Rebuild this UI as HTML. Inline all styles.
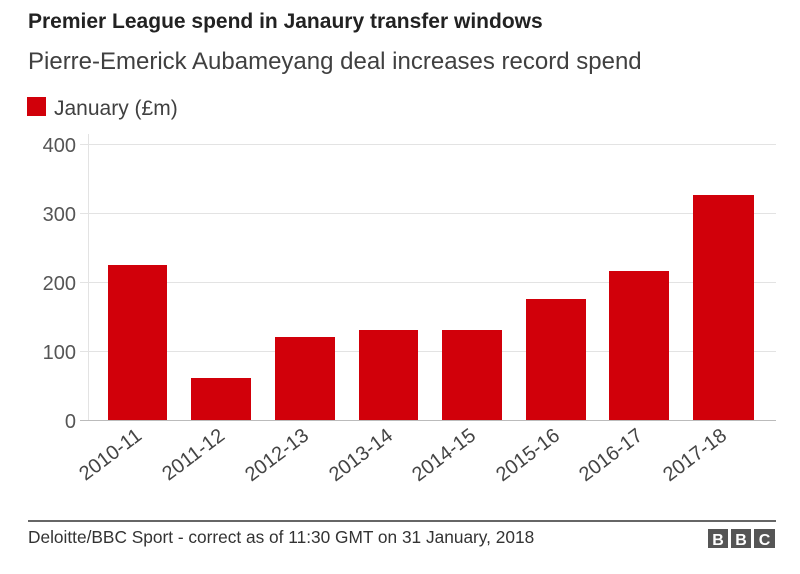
<!DOCTYPE html>
<html><head><style>
body{margin:0;background:#fff;width:800px;height:569px;overflow:hidden;font-family:"Liberation Sans",Arial,sans-serif}
</style></head><body>
<svg width="800" height="569" xmlns="http://www.w3.org/2000/svg" font-family="Liberation Sans, Arial, sans-serif">
<text x="28" y="28" font-size="21" font-weight="bold" fill="#222">Premier League spend in Janaury transfer windows</text>
<text x="28" y="69" font-size="24" fill="#404040">Pierre-Emerick Aubameyang deal increases record spend</text>
<rect x="27" y="97" width="19" height="19" fill="#d1000a"/>
<text x="54" y="115" font-size="21" fill="#404040">January (£m)</text>
<g stroke="#e3e3e3" stroke-width="1">
<line x1="80" y1="144.5" x2="776" y2="144.5"/>
<line x1="80" y1="213.5" x2="776" y2="213.5"/>
<line x1="80" y1="282.5" x2="776" y2="282.5"/>
<line x1="80" y1="351.5" x2="776" y2="351.5"/>
<line x1="88.5" y1="134" x2="88.5" y2="420"/>
</g>
<line x1="80" y1="420.5" x2="776" y2="420.5" stroke="#bbb"/>
<g font-size="20" fill="#555" text-anchor="end">
<text x="76" y="152">400</text><text x="76" y="221">300</text><text x="76" y="290">200</text><text x="76" y="359">100</text><text x="76" y="428">0</text>
</g>
<g fill="#d1000a">
<rect x="108" y="265" width="59" height="155"/>
<rect x="191" y="378" width="60" height="42"/>
<rect x="275" y="337" width="60" height="83"/>
<rect x="359" y="330" width="59" height="90"/>
<rect x="442" y="330" width="60" height="90"/>
<rect x="526" y="299" width="60" height="121"/>
<rect x="609" y="271" width="60" height="149"/>
<rect x="693" y="195" width="61" height="225"/>
</g>
<g font-size="20" fill="#444" text-anchor="end">
<text transform="translate(143,438) rotate(-37)">2010-11</text>
<text transform="translate(226,438) rotate(-37)">2011-12</text>
<text transform="translate(310,438) rotate(-37)">2012-13</text>
<text transform="translate(394,438) rotate(-37)">2013-14</text>
<text transform="translate(477,438) rotate(-37)">2014-15</text>
<text transform="translate(561,438) rotate(-37)">2015-16</text>
<text transform="translate(644,438) rotate(-37)">2016-17</text>
<text transform="translate(728,438) rotate(-37)">2017-18</text>
</g>
<line x1="28" y1="521" x2="776" y2="521" stroke="#333" stroke-width="1.5"/>
<text x="28" y="543" font-size="17.3" fill="#333">Deloitte/BBC Sport - correct as of 11:30 GMT on 31 January, 2018</text>
<g>
<rect x="708" y="529" width="20" height="19" fill="#555"/>
<rect x="731" y="529" width="20" height="19" fill="#555"/>
<rect x="754" y="529" width="21" height="19" fill="#555"/>
<g font-size="16" font-weight="bold" fill="#fff" text-anchor="middle">
<text x="718" y="545">B</text><text x="741" y="545">B</text><text x="764.5" y="545">C</text>
</g>
</g>
</svg>
</body></html>
